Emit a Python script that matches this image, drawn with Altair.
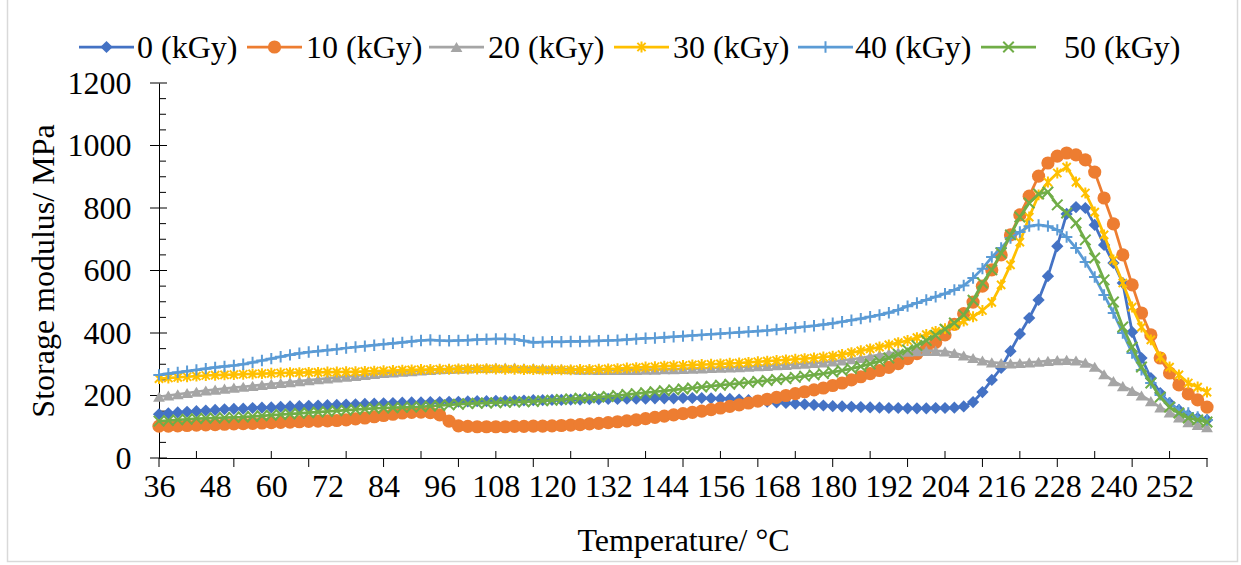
import altair as alt
import pandas as pd

# Temperature categories (°C), one reading every 2 °C
temperature_c = list(range(36, 261, 2))

# Storage modulus (MPa) for each irradiation dose
dose_0 = [
    140, 143, 146, 148, 150, 152, 154, 156, 157, 158,
    160, 161, 162, 164, 165, 166, 167, 168, 169, 170,
    171, 172, 173, 174, 175, 176, 177, 178, 178, 179,
    179, 180, 180, 181, 182, 182, 183, 183, 184, 184,
    185, 185, 186, 186, 187, 187, 188, 188, 189, 189,
    190, 190, 190, 191, 191, 191, 192, 192, 192, 191,
    190, 189, 187, 185, 182, 180, 178, 176, 174, 172,
    170, 168, 166, 165, 164, 163, 162, 161, 160, 160,
    159, 159, 159, 160, 160, 161, 165, 179, 211, 250,
    288, 342, 397, 448, 506, 582, 678, 781, 803, 800,
    746, 682, 624, 560, 403, 320, 256, 208, 176, 154,
    138, 128, 122,
]
dose_10 = [
    102, 102, 103, 104, 105, 106, 107, 108, 109, 110,
    111, 112, 113, 114, 115, 116, 117, 118, 119, 120,
    122, 125, 128, 132, 136, 140, 144, 146, 147, 145,
    138, 118, 103, 101, 100, 100, 100, 100, 101, 101,
    102, 102, 103, 104, 105, 107, 109, 111, 113, 116,
    119, 122, 126, 130, 134, 138, 142, 146, 150, 155,
    160, 165, 170, 176, 182, 188, 194, 200, 206, 212,
    218, 224, 232, 240, 250, 260, 270, 280, 290, 302,
    318, 334, 350, 370, 394, 428, 462, 499, 550, 602,
    650, 714, 778, 838, 902, 944, 966, 976, 970, 954,
    915, 832, 749, 650, 554, 464, 394, 320, 272, 234,
    205, 186, 163,
]
dose_20 = [
    196, 200, 204, 208, 212, 216, 219, 222, 225, 228,
    231, 234, 237, 240, 243, 246, 249, 252, 255, 258,
    260, 263, 266, 269, 272, 274, 276, 278, 280, 282,
    284, 285, 286, 287, 288, 288, 289, 289, 289, 288,
    288, 287, 286, 285, 284, 283, 283, 282, 282, 282,
    282, 282, 283, 283, 284, 284, 285, 286, 287, 288,
    289, 290, 291, 292, 294, 295, 297, 298, 300, 302,
    304, 306, 309, 312, 316, 320, 325, 330, 335, 338,
    340, 342, 343, 343, 341, 336, 328, 320, 312, 306,
    304, 303, 304, 306, 308, 311, 313, 314, 312, 305,
    292, 268, 246, 230, 215, 200, 182, 162, 146, 130,
    115, 106, 99,
]
dose_30 = [
    254, 256, 258, 260, 262, 264, 265, 266, 267, 268,
    269, 270, 271, 272, 273, 273, 274, 274, 275, 275,
    276, 276, 277, 278, 279, 280, 281, 282, 283, 283,
    284, 284, 285, 285, 285, 285, 285, 284, 284, 283,
    283, 282, 282, 282, 282, 283, 283, 284, 285, 286,
    288, 289, 291, 292, 294, 295, 296, 298, 299, 300,
    301, 303, 304, 306, 308, 310, 312, 314, 316, 318,
    320, 323, 326, 331, 337, 343, 349, 355, 362, 369,
    376, 385, 395, 405, 414, 424, 438, 452, 472, 498,
    554, 618, 691, 771, 842, 883, 912, 931, 883, 848,
    787, 714, 634, 560, 483, 419, 378, 323, 291, 266,
    240, 227, 211,
]
dose_40 = [
    266, 270, 274, 278, 282, 286, 290, 293, 296, 300,
    306, 312, 318, 324, 330, 335, 339, 342, 345, 348,
    352, 355, 358, 361, 364, 367, 370, 373, 376, 378,
    376, 375, 376, 377, 379, 380, 381, 381, 380, 375,
    370, 371, 372, 372, 373, 373, 374, 375, 376, 377,
    379, 381, 383, 384, 386, 388, 390, 392, 394, 396,
    398, 400, 402, 404, 406, 408, 411, 414, 417, 420,
    423, 427, 431, 436, 441, 446, 452, 458, 465, 474,
    486, 496, 506, 516, 526, 538, 552, 576, 606, 643,
    672, 704, 723, 742, 746, 742, 730, 707, 672, 627,
    579, 522, 464, 400, 336, 282, 240, 202, 176, 154,
    144, 131, 122,
]
dose_50 = [
    118, 120, 122, 124, 126, 127, 128, 129, 130, 131,
    133, 135, 137, 139, 141, 143, 145, 147, 149, 151,
    153, 155, 157, 159, 160, 161, 162, 163, 164, 166,
    168, 170, 172, 174, 175, 176, 177, 178, 179, 180,
    181, 183, 185, 187, 189, 191, 193, 195, 197, 200,
    203, 206, 209, 212, 215, 218, 221, 224, 227, 230,
    233, 236, 239, 242, 245, 248, 251, 254, 258, 262,
    266, 270, 275, 280, 286, 293, 301, 310, 320, 332,
    346, 360, 376, 393, 412, 432, 458, 505, 560, 602,
    656, 714, 771, 816, 845, 851, 810, 784, 752, 698,
    640, 570, 499, 419, 355, 291, 240, 195, 163, 144,
    128, 122, 115,
]

series_names = ["0 (kGy)", "10 (kGy)", "20 (kGy)", "30 (kGy)", "40 (kGy)", "50 (kGy)"]
series_values = [dose_0, dose_10, dose_20, dose_30, dose_40, dose_50]

x_tick_labels = [36, 48, 60, 72, 84, 96, 108, 120, 132, 144, 156, 168, 180, 192, 204, 216, 228, 240, 252]
y_tick_labels = [0, 200, 400, 600, 800, 1000, 1200]

# ---- styling -------------------------------------------------------------
FONT = "Liberation Serif"
FS = 32
W, H = 1048, 375
colors = ["#4472C4", "#ED7D31", "#A5A5A5", "#FFC000", "#5B9BD5", "#70AD47"]
PLUS = "M-1,0L1,0M0,-1L0,1"
CROSS = "M-1,-1L1,1M-1,1L1,-1"
STAR = "M0,-1L0,1M-0.75,-0.75L0.75,0.75M-0.75,0.75L0.75,-0.75"
markers = [
    dict(shape="diamond", filled=True, size=150),
    dict(shape="circle", filled=True, size=175),
    dict(shape="triangle-up", filled=True, size=140),
    dict(shape=STAR, filled=False, size=120, strokeWidth=2),
    dict(shape=PLUS, filled=False, size=130, strokeWidth=2),
    dict(shape=CROSS, filled=False, size=110, strokeWidth=2),
]

x_scale = alt.Scale(domain=[36, 260], nice=False, zero=False)
y_scale = alt.Scale(domain=[0, 1200], nice=False, zero=True)

x_axis = alt.Axis(
    values=x_tick_labels, format="d", ticks=False, tickSize=0, grid=False,
    labelFont=FONT, labelFontSize=FS, labelColor="black", labelPadding=13,
    labelFlush=False, labelOverlap=False,
    domainColor="black", domainWidth=1,
    title="Temperature/ °C", titleFont=FONT, titleFontSize=FS,
    titleFontWeight="normal", titleColor="black",
    titleX=W / 2, titleY=82, titleBaseline="middle", titleAlign="center",
)
y_axis = alt.Axis(
    values=y_tick_labels, format="d", ticks=False, tickSize=0, grid=False,
    labelFont=FONT, labelFontSize=FS, labelColor="black", labelPadding=28,
    labelFlush=False, labelOverlap=False,
    domainColor="black", domainWidth=1,
    title="Storage modulus/ MPa", titleFont=FONT, titleFontSize=FS,
    titleFontWeight="normal", titleColor="black",
    titleX=-116, titleY=H / 2, titleAngle=270,
    titleBaseline="middle", titleAlign="center",
)

X = alt.X("T:Q", scale=x_scale, axis=x_axis)
Y = alt.Y("value:Q", scale=y_scale, axis=y_axis)

rows = []
for name, vals in zip(series_names, series_values):
    for t, v in zip(temperature_c, vals):
        rows.append({"T": t, "value": v, "series": name})
data = pd.DataFrame(rows)

layers = []

# chart-area frame
layers.append(
    alt.Chart(pd.DataFrame({"k": [0]})).mark_rect(
        fillOpacity=0, stroke="#D9D9D9", strokeWidth=1.5
    ).encode(
        x=alt.value(-151.5), x2=alt.value(1078.5),
        y=alt.value(-95), y2=alt.value(478.5),
    )
)

# axis tick marks: major ticks outside / crossing, minor ticks inside
x_major = pd.DataFrame({"T": list(range(36, 261, 16))})
x_minor = pd.DataFrame({"T": list(range(44, 260, 16))})
y_major = pd.DataFrame({"value": list(range(0, 1201, 200))})
y_minor = pd.DataFrame({"value": [v for v in range(50, 1200, 50) if v % 200]})

layers.append(alt.Chart(x_major).mark_rule(color="black", strokeWidth=1).encode(
    x=X, y=alt.value(H), y2=alt.value(H + 9)))
layers.append(alt.Chart(x_minor).mark_rule(color="black", strokeWidth=1).encode(
    x=X, y=alt.value(H - 7), y2=alt.value(H)))
layers.append(alt.Chart(y_major).mark_rule(color="black", strokeWidth=1).encode(
    y=Y, x=alt.value(-9), x2=alt.value(8)))
layers.append(alt.Chart(y_minor).mark_rule(color="black", strokeWidth=1).encode(
    y=Y, x=alt.value(0), x2=alt.value(7)))

# data series: line then markers, drawn in series order
for name, color, mk in zip(series_names, colors, markers):
    sub = data[data["series"] == name]
    base = alt.Chart(sub)
    layers.append(base.mark_line(color=color, strokeWidth=2.75).encode(x=X, y=Y))
    pt_kwargs = dict(mk)
    if pt_kwargs["filled"]:
        pt_kwargs.update(color=color, fill=color)
    else:
        pt_kwargs.update(color=color, stroke=color)
    layers.append(base.mark_point(opacity=1, **pt_kwargs).encode(x=X, y=Y))

# legend across the top
legend_line_x = [79, 247, 429, 614, 798, 981]
legend_text_x = [137, 306, 488, 673, 855, 1064]
LEG_Y = 47 - 83
for name, color, mk, lx, tx in zip(series_names, colors, markers, legend_line_x, legend_text_x):
    one = alt.Chart(pd.DataFrame({"label": [name]}))
    layers.append(one.mark_rule(color=color, strokeWidth=2.75).encode(
        x=alt.value(lx - 159), x2=alt.value(lx + 55 - 159), y=alt.value(LEG_Y)))
    pt_kwargs = dict(mk)
    if pt_kwargs["filled"]:
        pt_kwargs.update(color=color, fill=color)
    else:
        pt_kwargs.update(color=color, stroke=color)
    layers.append(one.mark_point(opacity=1, **pt_kwargs).encode(
        x=alt.value(lx + 27.5 - 159), y=alt.value(LEG_Y)))
    layers.append(one.mark_text(
        font=FONT, fontSize=FS, color="black", align="left", baseline="middle"
    ).encode(x=alt.value(tx - 159), y=alt.value(LEG_Y + 1), text="label:N"))

chart = alt.layer(*layers).properties(
    width=W, height=H,
    autosize=alt.AutoSizeParams(type="none"),
    padding={"left": 159, "top": 83, "right": 34, "bottom": 107},
    background="white",
).configure(
    font=FONT,
).configure_axis(
    labelFont=FONT, titleFont=FONT,
).configure_text(
    font=FONT,
).configure_view(stroke=None)

chart.save("out.html", embed_options={"renderer": "svg", "actions": False})
